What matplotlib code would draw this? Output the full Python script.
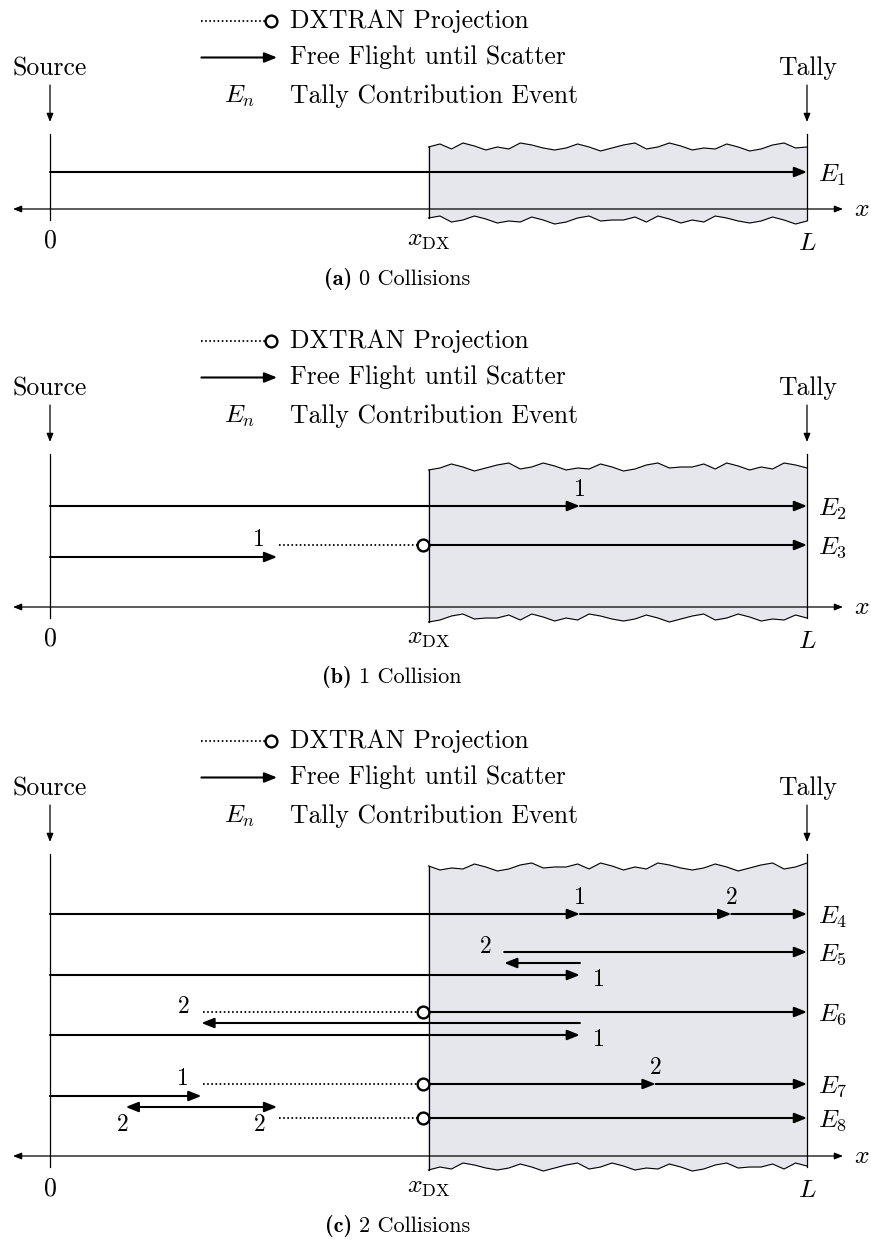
import matplotlib.pyplot as plt

plt.rcParams['font.family'] = 'cmr10'
plt.rcParams['mathtext.fontset'] = 'cm'
plt.rcParams['axes.unicode_minus'] = False

# positions along the slab, in units of L
L = 1.0
X_DX = 0.5

legend_labels = ['DXTRAN Projection', 'Free Flight until Scatter', 'Tally Contribution Event']
caption_tags = ['(a)', '(b)', '(c)']
captions = ['0 Collisions', '1 Collision', '2 Collisions']

# free flights: (start, end, row)
flights_a = [(0.0, 1.0, 0)]
flights_b = [(0.0, 0.7, 0), (0.7, 1.0, 0), (0.0, 0.3, 2), (0.5, 1.0, 1)]
flights_c = [(0.0, 0.7, 0), (0.7, 0.9, 0), (0.9, 1.0, 0),
             (0.0, 0.7, 3), (0.7, 0.6, 2), (0.6, 1.0, 1),
             (0.0, 0.7, 6), (0.7, 0.2, 5), (0.5, 1.0, 4),
             (0.0, 0.2, 8), (0.5, 0.8, 7), (0.8, 1.0, 7),
             (0.2, 0.1, 9), (0.2, 0.3, 9), (0.5, 1.0, 10)]

# DXTRAN projections: (start, row), always ending at x_DX
projections_a = []
projections_b = [(0.3, 1)]
projections_c = [(0.2, 4), (0.2, 7), (0.3, 10)]

# tally events: (label, row)
events_a = [('$E_1$', 0)]
events_b = [('$E_2$', 0), ('$E_3$', 1)]
events_c = [('$E_4$', 0), ('$E_5$', 1), ('$E_6$', 4), ('$E_7$', 7), ('$E_8$', 10)]

# collision numbers: (label, x, row, where)
collisions_a = []
collisions_b = [('1', 0.7, 0, 'above'), ('1', 0.3, 1, 'left')]
collisions_c = [('1', 0.7, 0, 'above'), ('2', 0.9, 0, 'above'),
                ('2', 0.6, 1, 'left'), ('1', 0.7, 3, 'right'),
                ('2', 0.2, 4, 'left'), ('1', 0.7, 6, 'right'),
                ('1', 0.2, 7, 'left'), ('2', 0.8, 7, 'above'),
                ('2', 0.1, 9, 'below'), ('2', 0.3, 9, 'belowleft')]

# layout (pixels)
panel_top = [0, 320, 720]
axis_y = [209, 607, 1156]
rows_a = [37]
rows_b = [101, 62, 50]
rows_c = [242, 204, 193, 181, 144, 133, 121, 72, 60, 49, 38]
wiggle = [0, -3, 2, -4, -1, 3, 0, 2, -4, -2, 1, 3, 1, -3, 0, 4, 1, -2,
          -4, 2, 0, -4, -1, 3, 1, 2, -3, 0, 4, 2, -2, -4, 1, 0]
label_offsets = {'above': (0, 16), 'left': (-18, 5), 'right': (19, -5),
                 'below': (-3, -18), 'belowleft': (-17, -18)}

fig = plt.figure(figsize=(8.71, 12.41), dpi=100)
ax = fig.add_axes([0, 0, 1, 1])
ax.set_xlim(-50 / 757, 821 / 757)
ax.set_ylim(1241, 0)
ax.axis('off')
px = 1 / 757


def arrow(x0, y0, x1, y1, lw=1.5, hl=0.75, hw=0.3, style='-|>'):
    ax.annotate('', xy=(x1, y1), xytext=(x0, y0),
                arrowprops=dict(arrowstyle=f'{style},head_length={hl},head_width={hw}',
                                lw=lw, color='black', shrinkA=0, shrinkB=0))


def dotted(x0, x1, y):
    ax.plot([x0, x1], [y, y], color='black', lw=1.3, ls=(0, (0.9, 1.4)),
            dash_capstyle='butt')


def circle(x, y):
    ax.plot([x - 6 * px], [y], 'o', ms=8.5, mfc='white', mec='black', mew=1.7, zorder=5)


panels = [
    (flights_a, projections_a, events_a, collisions_a, rows_a),
    (flights_b, projections_b, events_b, collisions_b, rows_b),
    (flights_c, projections_c, events_c, collisions_c, rows_c),
]

for i, (flights, projections, events, collisions, rows) in enumerate(panels):
    top = panel_top[i]
    ay = axis_y[i]
    shift = 11 * i

    # legend
    dotted(0.2, 0.3 - 12 * px, top + 21)
    circle(0.3, top + 21)
    ax.text(0.3 + 13 * px, top + 21, legend_labels[0], fontsize=18.5, va='center')
    arrow(0.2, top + 57.5, 0.3, top + 57.5)
    ax.text(0.3 + 13 * px, top + 57.5, legend_labels[1], fontsize=18.5, va='center')
    ax.text(0.25, top + 103, '$E_n$', fontsize=18.5, ha='center', va='baseline')
    ax.text(0.3 + 13 * px, top + 103, legend_labels[2], fontsize=18.5, va='baseline')

    # source / tally
    ax.text(0, top + 75, 'Source', fontsize=18.5, ha='center', va='baseline')
    ax.text(L, top + 75, 'Tally', fontsize=18.5, ha='center', va='baseline')
    arrow(0, top + 85, 0, top + 122, lw=0.9, hl=0.5, hw=0.2)
    arrow(L, top + 85, L, top + 122, lw=0.9, hl=0.5, hw=0.2)

    # slab beyond x_DX with ragged top and bottom
    n = len(wiggle)
    xs = [X_DX + (L - X_DX) * k / (n - 1) for k in range(n)]
    top_edge = [top + 147 + wiggle[(k + shift) % n] for k in range(n)]
    bot_edge = [ay + 11 + wiggle[(k + shift + 17) % n] for k in range(n)]
    poly_x = xs + xs[::-1]
    poly_y = top_edge + bot_edge[::-1]
    ax.fill(poly_x, poly_y, color='#e5e7ec', zorder=0)
    ax.plot(xs, top_edge, color='black', lw=0.8, zorder=1)
    ax.plot(xs, bot_edge, color='black', lw=0.8, zorder=1)
    ax.plot([X_DX, X_DX], [top_edge[0], bot_edge[0]], color='black', lw=0.9, zorder=1)

    # boundaries and axis
    ax.plot([0, 0], [top + 134, ay + 11], color='black', lw=0.9)
    ax.plot([L, L], [top + 134, ay + 11], color='black', lw=0.9)
    arrow(-37 * px, ay, L + 36 * px, ay, lw=0.9, hl=0.5, hw=0.2, style='<|-|>')
    ax.text(L + 47 * px, ay, '$x$', fontsize=18.5, va='center')
    ax.text(0, ay + 39, '0', fontsize=18.5, ha='center', va='baseline')
    ax.text(X_DX, ay + 37, r'$x_{\mathrm{DX}}$', fontsize=18.5, ha='center', va='baseline')
    ax.text(L, ay + 41, '$L$', fontsize=18.5, ha='center', va='baseline')

    # caption: bold tag then regular text
    ax.text(302 * px, ay + 70, caption_tags[i], fontsize=16, family='cmb10',
            ha='right', va='center')
    ax.text(309 * px, ay + 70, captions[i], fontsize=16, ha='left', va='center')

    # particle histories
    for x0, x1, r in flights:
        arrow(x0, ay - rows[r], x1, ay - rows[r])
    for x0, r in projections:
        dotted(x0 + 2 * px, X_DX - 12 * px, ay - rows[r])
        circle(X_DX, ay - rows[r])
    for lab, r in events:
        ax.text(L + 11 * px, ay - rows[r] + 3, lab, fontsize=18.5, va='center')
    for lab, x, r, where in collisions:
        dx, dy = label_offsets[where]
        ax.annotate(lab, xy=(x, ay - rows[r]), xytext=(dx, dy), textcoords='offset pixels',
                    fontsize=17, ha='center', va='center')

fig.savefig('out.png', dpi=100)
